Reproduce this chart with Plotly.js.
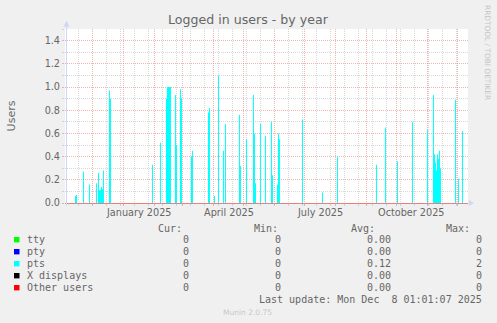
<!DOCTYPE html>
<html><head><meta charset="utf-8">
<script src="https://cdn.plot.ly/plotly-3.0.1.min.js"></script>
<style>html,body{margin:0;padding:0;background:#F0F0F0;overflow:hidden}#chart{width:497px;height:323px}</style>
</head><body><div id="chart"></div>
<script>
// ---- data (daily values of "pts"; all other days are 0) ----
const days = [
 '2024-11-13','2024-11-14','2024-11-21','2024-11-27','2024-12-04','2024-12-06','2024-12-07','2024-12-08','2024-12-09','2024-12-10','2024-12-11',
 '2024-12-17','2024-12-18','2025-01-29','2025-02-06','2025-02-12','2025-02-13','2025-02-14','2025-02-15','2025-02-16',
 '2025-02-21','2025-02-22','2025-02-26','2025-02-27','2025-03-09','2025-03-10','2025-03-26','2025-03-27','2025-04-01','2025-04-05',
 '2025-04-10','2025-04-12','2025-04-26','2025-04-27','2025-05-03','2025-05-10','2025-05-11','2025-05-12','2025-05-17','2025-05-22',
 '2025-05-28','2025-05-29','2025-06-03','2025-06-04','2025-06-05','2025-06-28','2025-07-18','2025-08-02','2025-09-10','2025-09-19',
 '2025-10-01','2025-10-16','2025-10-31','2025-11-06','2025-11-07','2025-11-08','2025-11-09','2025-11-10','2025-11-11','2025-11-12','2025-11-13',
 '2025-11-28','2025-12-01','2025-12-05'
];
const ptsValues = [
 0.06,0.07,0.27,0.16,0.17,0.26,0.11,0.11,0.14,0.12,0.28,
 0.97,0.90,0.33,0.52,0.90,1.00,1.00,1.00,1.00,
 0.93,0.50,0.98,0.90,0.40,0.45,0.78,0.82,0.06,1.10,
 0.45,0.68,0.76,0.32,0.55,0.93,0.60,0.17,0.68,0.58,
 0.70,0.24,0.16,0.60,0.55,0.72,0.09,0.40,0.33,0.65,
 0.36,0.70,0.63,0.93,0.42,0.35,0.28,0.42,0.38,0.45,0.30,
 0.89,0.21,0.62
];
const xRange = ['2024-11-03 01:01', '2025-12-11 01:01'];
const monthLabelDates = ['2025-01-16', '2025-04-16', '2025-07-16', '2025-10-16'];
const monthLabels = ['January 2025', 'April 2025', 'July 2025', 'October 2025'];
const legendNames = ['tty', 'pty', 'pts', 'X displays', 'Other users'];
const legendColors = ['#00FF00', '#0000FF', '#00FFFF', '#000000', '#FF0000'];
const curValues = ['0', '0', '0', '0', '0'];
const minValues = ['0', '0', '0', '0', '0'];
const avgValues = ['0.00', '0.00', '0.12', '0.00', '0.00'];
const maxValues = ['0', '0', '2', '0', '0'];
const headers = ['Cur:', 'Min:', 'Avg:', 'Max:'];
const lastUpdate = 'Last update: Mon Dec\u00a0\u00a08 01:01:07 2025';

// ---- geometry ----
const W = 497, H = 323, L = 65, PW = 403, T = 29, PH = 174, B = T + PH;
const px = x => (x - L) / PW;
const py = y => (B - y) / PH;
const FONT = 'DejaVu Sans, sans-serif';
const MONO = 'DejaVu Sans Mono, monospace';
const TXT = '#666666';
const AXIS = '#CFD6F8';

const annotations = [];
const shapes = [];
monthLabelDates.forEach((d, i) => annotations.push({
  xref: 'x', yref: 'paper', x: d, y: py(212.7), xanchor: 'center', yanchor: 'middle',
  text: monthLabels[i], showarrow: false, borderpad: 0, borderwidth: 0,
  font: {family: FONT, size: 9.7, color: TXT}
}));
annotations.push({xref: 'paper', yref: 'paper', x: px(488), y: py(52), xanchor: 'center', yanchor: 'middle',
  text: 'RRDTOOL / TOBI OETIKER', textangle: 90, showarrow: false, borderpad: 0, borderwidth: 0,
  font: {family: FONT, size: 7.4, color: '#C4C4C4'}});
const colRightHead = [181.7, 278.3, 375, 470];
const colRightVal = [189.3, 281, 390.7, 482.3];
const rowY = [239.7, 251.7, 263.7, 275.7, 287.7];
const mono = {family: MONO, size: 10, color: TXT};
headers.forEach((h, i) => annotations.push({xref: 'paper', yref: 'paper', x: px(colRightHead[i]), y: py(228),
  xanchor: 'right', yanchor: 'middle', text: h, showarrow: false, borderpad: 0, borderwidth: 0, font: mono}));
legendNames.forEach((n, r) => {
  shapes.push({type: 'rect', xref: 'paper', yref: 'paper', x0: px(14), x1: px(19.5),
    y0: py(rowY[r] + 2.7), y1: py(rowY[r] - 2.7), fillcolor: legendColors[r], line: {width: 0}});
  annotations.push({xref: 'paper', yref: 'paper', x: px(26.5), y: py(rowY[r]), xanchor: 'left', yanchor: 'middle',
    text: n, showarrow: false, borderpad: 0, borderwidth: 0, font: mono});
  [curValues, minValues, avgValues, maxValues].forEach((arr, c) => annotations.push({
    xref: 'paper', yref: 'paper', x: px(colRightVal[c]), y: py(rowY[r]), xanchor: 'right', yanchor: 'middle',
    text: arr[r], showarrow: false, borderpad: 0, borderwidth: 0, font: mono}));
});
annotations.push({xref: 'paper', yref: 'paper', x: px(482.3), y: py(299), xanchor: 'right', yanchor: 'middle',
  text: lastUpdate, showarrow: false, borderpad: 0, borderwidth: 0, font: mono});
annotations.push({xref: 'paper', yref: 'paper', x: px(247.7), y: py(312.3), xanchor: 'center', yanchor: 'middle',
  text: 'Munin 2.0.75', showarrow: false, borderpad: 0, borderwidth: 0, font: {family: FONT, size: 7.5, color: '#C8C8C8'}});

// axis line extension and arrows
shapes.push({type: 'path', xref: 'paper', yref: 'paper', xsizemode: 'pixel', ysizemode: 'pixel', xanchor: 0, yanchor: 0,
  path: 'M 1.5,-3 L 1.5,177 Z', line: {color: AXIS, width: 1}});
shapes.push({type: 'path', xref: 'paper', yref: 'paper', xsizemode: 'pixel', ysizemode: 'pixel', xanchor: 0, yanchor: 0,
  path: 'M -1,176.5 L 4,176.5 L 1.5,182 Z', fillcolor: AXIS, line: {color: AXIS, width: 0.5}});
shapes.push({type: 'path', xref: 'paper', yref: 'paper', xsizemode: 'pixel', ysizemode: 'pixel', xanchor: 1, yanchor: 0,
  path: 'M 1,-2.7 L 5.5,0 L 1,2.7 Z', fillcolor: AXIS, line: {color: AXIS, width: 0.5}});

// step-area outline built from the daily values (each value covers one day)
const stepX = [], stepY = [];
days.forEach((d, i) => {
  const next = new Date(new Date(d + 'T00:00:00Z').getTime() + 86400000).toISOString().slice(0, 10);
  stepX.push(d, d, next, next);
  stepY.push(0, ptsValues[i], ptsValues[i], 0);
});
const data = [{
  type: 'scatter', mode: 'lines', x: stepX, y: stepY, fill: 'tozeroy',
  fillcolor: '#00FFFF', line: {width: 0, color: '#00FFFF', simplify: false},
  hoverinfo: 'skip', showlegend: false
}];

const RED = 'rgba(235,130,130,0.6)';
const GRAY = 'rgba(190,190,190,0.6)';
const layout = {
  width: W, height: H,
  margin: {l: L, r: W - L - PW, t: T, b: H - B, pad: 0},
  paper_bgcolor: '#F0F0F0', plot_bgcolor: '#FFFFFF',
  showlegend: false,
  title: {text: 'Logged in users - by year', x: 248 / W, xref: 'container', xanchor: 'center',
    y: 1 - 19.3 / H, yref: 'container', yanchor: 'middle', font: {family: FONT, size: 12.6, color: TXT}},
  xaxis: {
    type: 'date', range: xRange, fixedrange: true,
    tick0: '2024-11-01', dtick: 'M1', showticklabels: false,
    showgrid: true, gridcolor: RED, gridwidth: 1, griddash: '1px,1px',
    ticks: 'outside', ticklen: 2, tickcolor: RED,
    showline: false, zeroline: false,
    minor: {tick0: '2024-11-17', dtick: 14 * 86400000, showgrid: true, gridcolor: GRAY, gridwidth: 1,
      griddash: '1px,1px', ticks: 'outside', ticklen: 2, tickcolor: GRAY}
  },
  yaxis: {
    range: [0, 1.5], fixedrange: true, tick0: 0, dtick: 0.2, tickformat: '.1f',
    showgrid: true, gridcolor: RED, gridwidth: 1, griddash: '1px,1px',
    ticks: 'outside', ticklen: 2, tickcolor: RED,
    tickfont: {family: FONT, size: 9.7, color: TXT},
    showline: false, zeroline: true, zerolinecolor: '#E88080', zerolinewidth: 1,
    minor: {dtick: 0.1, showgrid: true, gridcolor: GRAY, gridwidth: 1, griddash: '1px,1px',
      ticks: 'outside', ticklen: 2, tickcolor: GRAY},
    title: {text: 'Users', standoff: 26, font: {family: FONT, size: 11, color: TXT}}
  },
  annotations: annotations,
  shapes: shapes
};
Plotly.newPlot('chart', data, layout, {staticPlot: true, displayModeBar: false});
</script>
</body></html>
